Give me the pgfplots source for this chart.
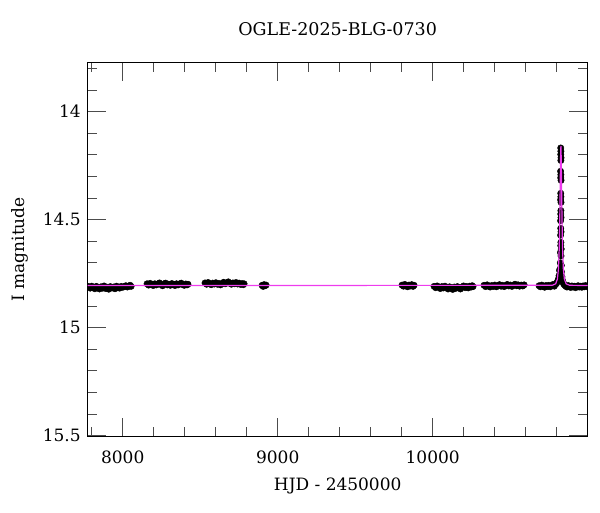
\documentclass[border=0pt]{standalone}
\usepackage{fontspec}
\setmainfont{DejaVu Serif}
\usepackage{pgfplots}
\pgfplotsset{compat=1.18}
\definecolor{modelc}{RGB}{238,60,238}
\pgfplotstableread{
x y
7780 14.810
7790 14.817
7800 14.808
7810 14.815
7820 14.820
7830 14.809
7840 14.814
7850 14.821
7860 14.811
7870 14.817
7880 14.807
7890 14.819
7900 14.813
7910 14.822
7920 14.810
7930 14.816
7940 14.812
7950 14.820
7960 14.808
7970 14.815
7980 14.817
7990 14.809
8000 14.813
8010 14.810
8020 14.806
8030 14.812
8040 14.807
8048 14.804
8054 14.809
8157 14.797
8167 14.803
8177 14.795
8187 14.800
8197 14.805
8207 14.797
8217 14.802
8227 14.798
8237 14.793
8247 14.801
8257 14.806
8267 14.797
8277 14.794
8287 14.802
8297 14.799
8307 14.804
8317 14.796
8327 14.800
8337 14.805
8347 14.797
8357 14.802
8367 14.798
8377 14.794
8387 14.801
8397 14.804
8407 14.798
8415 14.802
8421 14.799
8531 14.793
8541 14.799
8551 14.791
8561 14.797
8571 14.801
8581 14.794
8591 14.798
8601 14.792
8611 14.799
8621 14.795
8631 14.802
8641 14.796
8651 14.790
8661 14.797
8671 14.793
8681 14.788
8691 14.795
8701 14.799
8711 14.793
8721 14.797
8731 14.791
8741 14.798
8751 14.794
8761 14.800
8771 14.796
8778 14.801
8783 14.797
8899 14.804
8906 14.809
8912 14.801
8918 14.806
8925 14.803
9802 14.803
9811 14.808
9820 14.800
9829 14.806
9838 14.811
9847 14.803
9856 14.807
9865 14.801
9873 14.809
9880 14.804
10009 14.809
10019 14.815
10029 14.807
10039 14.813
10049 14.819
10059 14.810
10069 14.816
10079 14.808
10089 14.814
10099 14.821
10109 14.811
10119 14.817
10129 14.823
10139 14.812
10149 14.818
10159 14.810
10169 14.815
10179 14.821
10189 14.812
10199 14.807
10209 14.815
10219 14.810
10229 14.816
10239 14.808
10249 14.812
10255 14.806
10260 14.810
10331 14.804
10341 14.810
10351 14.802
10361 14.808
10371 14.812
10381 14.805
10391 14.809
10401 14.803
10411 14.811
10421 14.806
10431 14.801
10441 14.808
10451 14.804
10461 14.810
10471 14.805
10481 14.800
10491 14.807
10501 14.803
10511 14.809
10521 14.804
10531 14.799
10541 14.806
10551 14.802
10561 14.808
10571 14.803
10581 14.807
10590 14.802
10686 14.806
10695 14.811
10704 14.803
10713 14.809
10722 14.813
10731 14.805
10740 14.810
10749 14.804
10758 14.811
10767 14.806
10776 14.800
10785 14.808
10794 14.799
10801 14.792
10806 14.785
10811 14.775
10815 14.760
10818 14.735
10826 14.168
10827 14.183
10826 14.198
10828 14.213
10827 14.226
10825 14.276
10827 14.292
10826 14.306
10828 14.318
10826 14.378
10827 14.394
10825 14.408
10828 14.420
10827 14.458
10826 14.474
10828 14.490
10825 14.505
10826 14.540
10828 14.556
10825 14.572
10827 14.605
10826 14.620
10829 14.636
10824 14.652
10828 14.668
10823 14.700
10830 14.712
10822 14.728
10831 14.742
10821 14.752
10834 14.765
10837 14.780
10841 14.790
10845 14.798
10851 14.803
10858 14.808
10866 14.812
10874 14.805
10882 14.810
10890 14.814
10898 14.807
10906 14.812
10914 14.808
10922 14.815
10930 14.810
10938 14.806
10946 14.812
10954 14.808
10962 14.813
10970 14.807
10978 14.811
10986 14.805
10994 14.810
11000 14.808
}\obsdata
\pgfplotstableread{
x y
7774 14.805
10771 14.804
10793.25 14.797
10804.5 14.775
10811.25 14.727
10815.75 14.645
10818 14.574
10820.25 14.474
10822.5 14.346
10824.75 14.217
10827 14.158
10829.25 14.217
10831.5 14.346
10833.75 14.474
10836 14.574
10838.25 14.645
10842.75 14.727
10849.5 14.775
10860.75 14.797
10883 14.804
11000 14.805
}\modeldata
\begin{document}
\begin{tikzpicture}
\useasboundingbox (-87.7pt,-75.3pt) rectangle (512.3pt,436.7pt);
\begin{axis}[
  at={(0pt,0pt)}, anchor=south west,
  scale only axis, width=500pt, height=374.7pt,
  xmin=7774, xmax=11000, ymin=13.770, ymax=15.505,
  y dir=reverse,
  scaled x ticks=false, scaled y ticks=false,
  xtick={8000,9000,10000},
  xticklabels={8000,9000,10000},
  minor xtick={7800,8200,8400,8600,8800,9200,9400,9600,9800,10200,10400,10600,10800},
  ytick={14,14.5,15,15.5},
  yticklabels={14,14.5,15,15.5},
  minor ytick={13.8,13.9,14.1,14.2,14.3,14.4,14.6,14.7,14.8,14.9,15.1,15.2,15.3,15.4},
  tick align=inside,
  major tick length=18.5pt, minor tick length=9.5pt,
  every tick/.style={black!70, line width=0.8pt},
  axis line style={black, line width=1pt},
  xticklabel style={anchor=base, yshift=-26.3pt, font=\fontsize{17}{20}\selectfont},
  yticklabel style={anchor=east, xshift=-3.5pt, font=\fontsize{17}{20}\selectfont},
  title={OGLE-2025-BLG-0730},
  title style={at={(axis description cs:0.5,1)}, anchor=base, yshift=20.3pt, font=\fontsize{17.5}{21}\selectfont},
  xlabel={HJD - 2450000},
  xlabel style={at={(axis description cs:0.5,0)}, anchor=base, yshift=-53.3pt, font=\fontsize{17}{20}\selectfont},
  ylabel={I magnitude},
  ylabel style={at={(axis description cs:-0.1264,0.5)}, anchor=base, font=\fontsize{17}{20}\selectfont},
  clip marker paths=true,
]
\addplot[only marks, mark=*, mark size=3.2pt, black, mark options={fill=black, draw=black}] table[x=x,y=y] {\obsdata};
\addplot[modelc, line width=1.2pt, no marks] table[x=x,y=y] {\modeldata};
\end{axis}
\end{tikzpicture}
\end{document}
